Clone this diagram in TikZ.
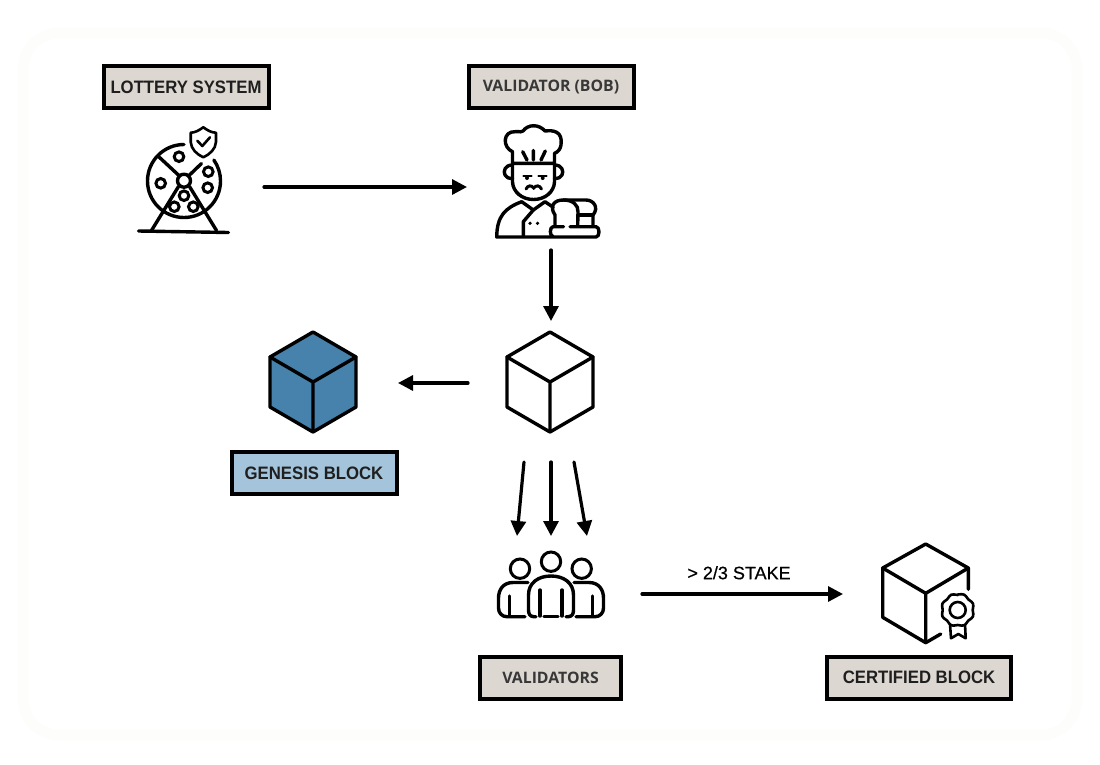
\documentclass[tikz,border=0pt]{standalone}
\usepackage{fontspec}
\setmainfont{Liberation Sans}
\newfontfamily\softfont{Open Sans}
\newfontfamily\tagfont[FakeStretch=0.93]{Liberation Sans}
\newfontfamily\stakefont[FakeBold=0.5]{Liberation Sans}
\usetikzlibrary{arrows.meta,calc}
\definecolor{labelgray}{HTML}{DDD7D1}
\definecolor{labelblue}{HTML}{A3C4DA}
\definecolor{cubeblue}{HTML}{4682AB}
\definecolor{cardedge}{HTML}{FDFDFB}
\tikzset{
  tag/.style={draw=black, line width=4pt, fill=labelgray, inner sep=0pt, minimum height=42pt,
    font=\tagfont\fontsize{18}{20}\selectfont\bfseries, text=black!88},
  softtag/.style={tag, font=\softfont\fontsize{15.8}{20}\selectfont\bfseries, text=black!78},
  icon/.style={inner sep=0pt, outer sep=0pt},
  flow/.style={line width=3.2pt, line cap=round, -{Triangle[length=15pt,width=15pt]}},
  ink/.style={line width=3.4pt, line cap=round, line join=round},
  cube/.pic={
    \draw[ink, fill=#1] (0,-50) -- (43,-25) -- (43,25) -- (0,50) -- (-43,25) -- (-43,-25) -- cycle;
    \draw[ink] (-43,-25) -- (0,0) -- (43,-25) (0,0) -- (0,50);
  },
}
\begin{document}
\begin{tikzpicture}[x=1pt, y=-1pt]
  \useasboundingbox (0,0) rectangle (1100,764);
  \draw[cardedge, line width=11pt, rounded corners=36pt] (23,33) rectangle (1077,735);

  % 1. Caixas de texto
  \node[tag, minimum width=165pt] (lotterytag) at (186,87) {LOTTERY SYSTEM};
  \node[softtag, minimum width=165pt] (bobtag) at (551,87) {VALIDATOR (BOB)};
  \node[tag, fill=labelblue, minimum width=165pt] (genesistag) at (314,473) {GENESIS BLOCK};
  \node[softtag, minimum width=141pt] (crowdtag) at (550.5,677.5) {VALIDATORS};
  \node[tag, minimum width=184pt] (certtag) at (919,677.5) {CERTIFIED BLOCK};

  % 2. Caixas invisiveis em volta dos icones, para as setas
  \node[icon, minimum width=160pt, minimum height=110pt] (wheel) at (184,187) {};
  \node[icon, minimum width=168pt, minimum height=126pt] (bob) at (551,187) {};
  \node[icon, minimum width=166pt, minimum height=124pt] (block) at (551,383) {};
  \node[icon, minimum width=170pt, minimum height=124pt] (genesis) at (313,383) {};
  \node[icon, minimum width=182pt, minimum height=116pt] (crowd) at (551,594) {};
  \node[icon, minimum width=164pt, minimum height=116pt] (cert) at (925,594) {};

  % 3. Setas
  \draw[flow] (wheel.east) -- (bob.west);
  \draw[flow] (bob.south) -- (block.north);
  \draw[flow] (block.west) -- (genesis.east);
  \foreach \a/\b in {-27/-34, 0/0, 23/36} {
    \draw[flow] ($(block.south)+(\a,17)$) -- ($(crowd.north)+(\b,0)$);
  }
  \draw[flow] (crowd.east) -- node[above=13pt, xshift=-3.5pt, font=\stakefont\fontsize{18}{20}\selectfont, text=black, inner sep=0pt] (stake) {> 2/3 STAKE} (cert.west);

  % 4. Roda da loteria
  \draw[ink] (184,144.5) arc[start angle=-90, end angle=-395, radius=36.5];
  \draw[ink] (184,180.7) circle[radius=6.5];
  \draw[ink] (179.5,176) -- (158.5,156.5) (188.5,176) -- (201.5,163.5);
  \draw[ink] (178.5,186.5) -- (151.5,230.5) (189.5,186.5) -- (216.5,230.5);
  \draw[ink] (138.5,231) -- (228.5,232.5);
  \foreach \bx/\by in {179/156.7, 208.3/171.7, 207.7/187.7, 160.7/183.3, 184/195.7, 174.3/206.7, 193.3/206.7} {
    \draw[line width=3pt, fill=white] (\bx,\by) circle[radius=4.8];
  }
  \draw[line width=2.6pt, line join=round, fill=white] (203.3,127.3) .. controls (198,131) and (195,132.5) .. (190.7,132.7) -- (190.7,142) .. controls (191,149) and (197,154.5) .. (203.3,157.3) .. controls (209.6,154.5) and (215.7,149) .. (216,142) -- (216,132.7) .. controls (211.5,132.5) and (208.5,131) .. cycle;
  \draw[line width=2.6pt, line cap=round, line join=round] (197.3,140.7) -- (202.3,146) -- (210,137.3);

  % 5. Cozinheiro
  \draw[ink] (512.5,163.3) -- (512.5,151.7) .. controls (502,147) and (503,131) .. (515,131.7) .. controls (520,131) and (522,133) .. (523,131) .. controls (528,124) and (539,124) .. (545,131) .. controls (553,130) and (563,131) .. (561,145) .. controls (560.5,149) and (558,152) .. (554.5,153.3) -- (554.5,163.3) -- cycle;
  \draw[ink] (522.7,151.7) -- (527,160) (533.3,150.5) -- (533.3,160) (545.3,151) -- (541,160);
  \draw[ink] (512.5,165) .. controls (505,165) and (503,171) .. (505,175) .. controls (506,177.5) and (509,178.5) .. (512.5,178.5);
  \draw[ink] (554.5,165) .. controls (562,165) and (564,171) .. (562,175) .. controls (561,177.5) and (558,178.5) .. (554.5,178.5);
  \draw[ink] (512.5,163.3) -- (512.5,182) .. controls (513,192) and (522,199.5) .. (533.5,199.5) .. controls (545,199.5) and (554,192) .. (554.5,182) -- (554.5,163.3);
  \draw[line width=2.4pt, line cap=round] (523.5,176) -- (531.5,176) (538.5,176) -- (546.5,176);
  \fill (527,178) circle[radius=2] (542.7,178) circle[radius=2];
  \draw[line width=3pt, line cap=round] (526,189) .. controls (528,185) and (531.5,185) .. (533.7,188) .. controls (536,185) and (539.5,185) .. (541.5,189);
  \draw[ink] (521.7,201.7) .. controls (505,208) and (497,216) .. (496.7,237) -- (596,237) .. controls (600,237) and (600,226.7) .. (596,226.7) -- (570,226.7);
  \draw[ink] (563.5,226.7) -- (553,226.7) .. controls (549.5,226.7) and (549.5,236.5) .. (553,236.5);
  \draw[ink] (521.7,201.7) -- (533.3,210) -- (545,201.7) -- (553.3,207.3);
  \draw[ink] (533.3,210) -- (523.3,221.7) -- (523.3,236);
  \fill (530,223.3) circle[radius=1.8] (537.5,223.3) circle[radius=1.8];
  \draw[ink] (555,225) -- (555,215) .. controls (549,206) and (554,200) .. (563.3,200) .. controls (573,200) and (578.5,205) .. (578,212) -- (577.7,225);
  \draw[ink] (563.3,200) -- (586,200) .. controls (594,200) and (599,208) .. (593,215) -- (593,225);
  \draw[ink] (578,215) -- (593,215);

  % 6. Blocos
  \pic at (550,382) {cube=white};
  \pic at (313,382) {cube=cubeblue};

  % 7. Grupo de validadores
  \foreach \hx/\hy in {551/561.7, 520/568.7, 581.7/568.7} {
    \draw[line width=3pt] (\hx,\hy) circle[radius=9.7];
  }
  \draw[ink] (536,616.7) -- (534,616.7) .. controls (530,616.7) and (528.5,614) .. (528.5,610) -- (528.5,595) .. controls (528.5,583) and (538,576) .. (551,576) .. controls (564,576) and (573.5,583) .. (573.5,595) -- (573.5,610) .. controls (573.5,614) and (572,616.7) .. (568,616.7) -- (566,616.7);
  \draw[ink] (544,616.7) -- (558,616.7);
  \draw[ink] (540,590) -- (540,616) (562,590) -- (562,616);
  \draw[ink] (528,582.5) -- (513,582.5) .. controls (503,582.5) and (498.5,590) .. (498.5,598) -- (498.5,608) .. controls (498.5,613) and (502,616.7) .. (507,616.7) -- (525,616.7);
  \draw[ink] (509.5,596) -- (509.5,616);
  \draw[ink] (574,582.5) -- (589,582.5) .. controls (599,582.5) and (603.5,590) .. (603.5,598) -- (603.5,608) .. controls (603.5,613) and (600,616.7) .. (595,616.7) -- (576,616.7);
  \draw[ink] (592.5,596) -- (592.5,616);

  % 8. Bloco certificado
  \draw[ink] (968.3,589.3) -- (968.3,568) -- (925.7,544) -- (882.7,568) -- (882.7,617.3) -- (925.7,642.7) -- (940.7,634);
  \draw[ink] (882.7,568) -- (925.7,593.3) -- (968.3,568) (925.7,593.3) -- (925.7,642.7);
  \draw[line width=2.6pt] (957.7,610) circle[radius=8];
  \draw[line width=2.6pt, line join=round] (957.7,594.5)
    \foreach \s in {1,...,8} {
      \pgfextra{\pgfmathsetmacro\angm{-90+45*\s-22.5}\pgfmathsetmacro\angn{-90+45*\s}}
      .. controls ($(957.7,610)+(\angm:17.5)$) .. ($(957.7,610)+(\angn:15)$)
    } -- cycle;
  \draw[line width=2.6pt, line join=round] (950,624) -- (951,638.3) -- (958.3,634) -- (965.7,638.3) -- (965,624);
\end{tikzpicture}
\end{document}
